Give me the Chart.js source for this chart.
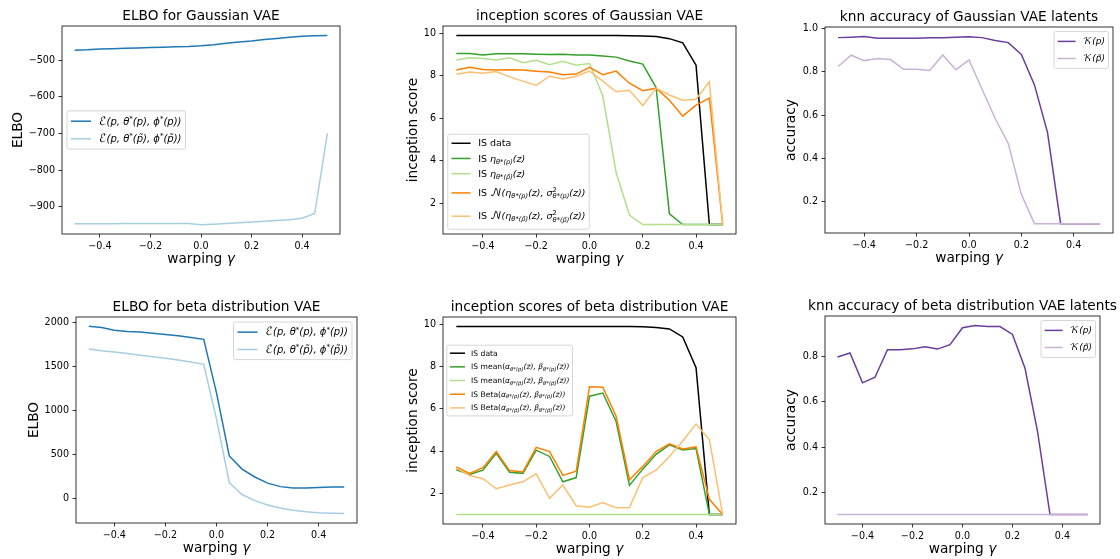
<!DOCTYPE html>
<html><head><meta charset="utf-8">
<script src="https://cdn.jsdelivr.net/npm/chart.js@4.4.1/dist/chart.umd.min.js"></script>
<style>
html,body{margin:0;padding:0;background:#fff;}
#wrap{position:relative;width:1120px;height:559px;overflow:hidden;background:#fff;}
canvas{position:absolute;}
</style></head><body><div id="wrap"></div>
<script>
// ---------------- data ----------------
const gamma = [-0.5,-0.45,-0.4,-0.35,-0.3,-0.25,-0.2,-0.15,-0.1,-0.05,0,0.05,0.1,0.15,0.2,0.25,0.3,0.35,0.4,0.45,0.5];
const xTicks = [-0.4,-0.2,0,0.2,0.4];

const elboGaussP  = [-472,-471,-469,-468,-467,-466,-465,-464,-463,-462,-460,-457,-453,-450,-447,-443,-440,-437,-434,-433,-432];
const elboGaussPt = [-947,-947,-947,-947,-946,-946,-946,-946,-946,-946,-950,-948,-946,-944,-942,-940,-938,-936,-932,-919,-700];
const elboGaussTicks = [-900,-800,-700,-600,-500];

const isGaussData = [9.9,9.9,9.9,9.9,9.9,9.9,9.9,9.9,9.9,9.9,9.9,9.9,9.9,9.89,9.88,9.85,9.75,9.55,8.5,1.0,1.0];
const isGaussEta  = [9.05,9.05,8.98,9.04,9.04,9.04,9.02,9.0,9.01,8.98,8.98,8.93,8.88,8.7,8.55,7.45,1.5,1.0,1.0,1.0,1.0];
const isGaussEtaT = [8.75,8.85,8.82,8.75,8.85,8.62,8.73,8.52,8.68,8.5,8.58,7.05,3.45,1.45,1.0,1.0,1.0,1.0,1.0,1.0,1.0];
const isGaussN    = [8.27,8.4,8.3,8.27,8.28,8.27,8.22,8.18,8.05,8.08,8.4,8.05,8.22,7.65,7.3,7.42,6.85,6.1,6.62,6.95,1.0];
const isGaussNT   = [8.07,8.18,8.12,8.2,7.95,7.75,7.55,7.98,7.85,7.98,8.22,7.75,7.25,7.32,6.6,7.42,7.1,6.85,6.9,7.72,1.0];
const isTicks = [2,4,6,8,10];

const knnGaussP  = [0.958,0.96,0.963,0.955,0.955,0.955,0.955,0.957,0.958,0.96,0.962,0.958,0.945,0.935,0.88,0.74,0.52,0.1,0.1,0.1,0.1];
const knnGaussPt = [0.825,0.877,0.852,0.862,0.857,0.812,0.812,0.806,0.878,0.81,0.855,0.72,0.585,0.47,0.235,0.1,0.1,0.1,0.1,0.1,0.1];
const knnGaussTicks = [0.2,0.4,0.6,0.8,1.0];

const elboBetaP  = [1960,1945,1915,1900,1895,1880,1865,1850,1830,1810,1200,480,330,240,170,130,115,115,120,125,125];
const elboBetaPt = [1700,1680,1665,1648,1630,1612,1594,1575,1552,1525,900,175,40,-30,-80,-115,-140,-157,-168,-174,-178];
const elboBetaTicks = [0,500,1000,1500,2000];

const isBetaData  = [9.9,9.9,9.9,9.9,9.9,9.9,9.9,9.9,9.9,9.9,9.9,9.9,9.9,9.89,9.88,9.85,9.78,9.4,7.95,1.0,1.0];
const isBetaMean  = [3.12,2.9,3.1,3.9,3.0,2.95,4.05,3.75,2.55,2.75,6.6,6.75,5.4,2.38,3.15,3.85,4.3,4.05,4.12,1.0,1.0];
const isBetaMeanT = [1,1,1,1,1,1,1,1,1,1,1,1,1,1,1,1,1,1,1,1,1];
const isBetaBeta  = [3.25,2.95,3.22,3.98,3.08,3.02,4.18,3.98,2.85,3.05,7.05,7.02,5.65,2.65,3.28,3.98,4.35,4.1,4.2,1.72,1.0];
const isBetaBetaT = [3.2,2.85,2.7,2.22,2.4,2.55,2.93,1.77,2.4,1.42,1.35,1.57,1.32,1.33,2.75,3.1,3.75,4.48,5.28,4.55,1.0];

const knnBetaP  = [0.8,0.818,0.685,0.71,0.832,0.832,0.836,0.845,0.835,0.855,0.93,0.94,0.935,0.935,0.9,0.75,0.47,0.1,0.1,0.1,0.1];
const knnBetaPt = [0.1,0.1,0.1,0.1,0.1,0.1,0.1,0.1,0.1,0.1,0.1,0.1,0.1,0.1,0.1,0.1,0.1,0.1,0.1,0.1,0.1];
const knnBetaTicks = [0.2,0.4,0.6,0.8];

// ---------------- styling helpers ----------------
const FONT = "'DejaVu Sans', sans-serif";
const CAL = "'DejaVu Math TeX Gyre', 'DejaVu Sans', 'DejaVu Serif', serif";
const C = {blue:'#1f78b4', lblue:'#a6cee3', green:'#33a02c', lgreen:'#b2df8a', orange:'#ff7f00', lorange:'#fdbf6f', purple:'#6a3d9a', lpurple:'#cab2d6', black:'#000000'};
function N(t){return {k:'n',t};}
function I(t){return {k:'i',t};}
function K(t){return {k:'c',t};}
function B(t){return {k:'b',t};}
function P(t){return {k:'p',t};}
function BP(p,b){return {k:'bp',p,b};}

const lab = {
  eP:  [K('ℰ'),I('(p, θ'),P('*'),I('(p), ϕ'),P('*'),I('(p))')],
  ePt: [K('ℰ'),I('(p, θ'),P('*'),I('(p̃), ϕ'),P('*'),I('(p̃))')],
  isData: [N('IS data')],
  isEta:  [N('IS '),I('η'),B('θ*(p)'),I('(z)')],
  isEtaT: [N('IS '),I('η'),B('θ*(p̃)'),I('(z)')],
  isN:    [N('IS '),K('𝒩'),I('(η'),B('θ*(p)'),I('(z), σ'),BP('2','θ*(p)'),I('(z))')],
  isNT:   [N('IS '),K('𝒩'),I('(η'),B('θ*(p̃)'),I('(z), σ'),BP('2','θ*(p̃)'),I('(z))')],
  kP:  [K('𝒦'),I('(p)')],
  kPt: [K('𝒦'),I('(p̃)')],
  mean:  [N('IS mean('),I('α'),B('θ*(p)'),I('(z), β'),B('θ*(p)'),I('(z))')],
  meanT: [N('IS mean('),I('α'),B('θ*(p̃)'),I('(z), β'),B('θ*(p̃)'),I('(z))')],
  beta:  [N('IS Beta('),I('α'),B('θ*(p)'),I('(z), β'),B('θ*(p)'),I('(z))')],
  betaT: [N('IS Beta('),I('α'),B('θ*(p̃)'),I('(z), β'),B('θ*(p̃)'),I('(z))')],
  warp: [N('warping '),I('γ')]
};

function fontOf(k, fs){
  if (k==='n') return fs+'px '+FONT;
  if (k==='i') return 'italic '+fs+'px '+FONT;
  if (k==='c') return (fs*1.1)+'px '+CAL;
  if (k==='b') return 'italic '+(fs*0.7)+'px '+FONT;
  return (fs*0.7)+'px '+FONT;
}
function segWidth(ctx, s, fs){
  if (s.k==='bp'){ ctx.font=fontOf('p',fs); const a=ctx.measureText(s.p).width; ctx.font=fontOf('b',fs); const b=ctx.measureText(s.b).width; return Math.max(a,b); }
  ctx.font=fontOf(s.k,fs); return ctx.measureText(s.t).width;
}
function segsWidth(ctx, segs, fs){ let w=0; segs.forEach(s=>w+=segWidth(ctx,s,fs)); return w; }
function drawSegs(ctx, segs, x, y, fs, color){
  ctx.fillStyle=color; ctx.textAlign='left'; ctx.textBaseline='alphabetic';
  for (const s of segs){
    const w=segWidth(ctx,s,fs);
    if (s.k==='bp'){
      ctx.font=fontOf('p',fs); ctx.fillText(s.p,x,y-0.42*fs);
      ctx.font=fontOf('b',fs); ctx.fillText(s.b,x,y+0.25*fs);
    } else {
      ctx.font=fontOf(s.k,fs);
      const dy = s.k==='b'?0.22*fs:(s.k==='p'?-0.38*fs:0);
      ctx.fillText(s.t,x,y+dy);
    }
    x+=w;
  }
}
function fmt(v, dec){ const s=Math.abs(v).toFixed(dec); return (v<-1e-9?'\u2212':'')+s; }

function drawLegend(chart, lg){
  const ctx=chart.ctx, a=chart.chartArea, fs=lg.fs;
  const pad=0.4*fs, hl=2*fs, htp=0.8*fs, ls=0.5*fs, bap=0.5*fs;
  const n=lg.items.length;
  const hs=lg.items.map((it,i)=>(Array.isArray(lg.rowH)?lg.rowH[i]:lg.rowH)*fs);
  let tw=0; lg.items.forEach(it=>{tw=Math.max(tw,segsWidth(ctx,it.segs,fs));});
  const W=2*pad+hl+htp+tw, H=2*pad+hs.reduce((s,v)=>s+v,0)+ls*(n-1);
  let x,y;
  if (lg.loc==='upper right'){x=a.right-bap-W; y=a.top+bap;}
  else if (lg.loc==='lower left'){x=a.left+bap; y=a.bottom-bap-H;}
  else { x=a.left+bap; const cy=a.bottom-(a.bottom-a.top)*lg.yFrac; y=cy-H/2; }
  ctx.save();
  const r=0.2*fs;
  ctx.beginPath();
  ctx.moveTo(x+r,y); ctx.lineTo(x+W-r,y); ctx.quadraticCurveTo(x+W,y,x+W,y+r);
  ctx.lineTo(x+W,y+H-r); ctx.quadraticCurveTo(x+W,y+H,x+W-r,y+H);
  ctx.lineTo(x+r,y+H); ctx.quadraticCurveTo(x,y+H,x,y+H-r);
  ctx.lineTo(x,y+r); ctx.quadraticCurveTo(x,y,x+r,y); ctx.closePath();
  ctx.fillStyle='rgba(255,255,255,0.8)'; ctx.fill();
  ctx.strokeStyle='rgba(204,204,204,0.8)'; ctx.lineWidth=1; ctx.stroke();
  let cyAcc=y+pad;
  lg.items.forEach((it,i)=>{
    const cy=cyAcc+hs[i]/2;
    ctx.beginPath(); ctx.moveTo(x+pad,cy); ctx.lineTo(x+pad+hl,cy);
    ctx.strokeStyle=it.color; ctx.lineWidth=1.5; ctx.stroke();
    drawSegs(ctx,it.segs,x+pad+hl+htp,cy+0.33*fs,fs,'#000');
    cyAcc+=hs[i]+ls;
  });
  ctx.restore();
}

function drawDeco(chart, p){
  const ctx=chart.ctx, a=chart.chartArea;
  ctx.save();
  ctx.strokeStyle='#000'; ctx.lineWidth=0.8;
  ctx.strokeRect(a.left,a.top,a.right-a.left,a.bottom-a.top);
  ctx.fillStyle='#000'; ctx.font='13.7px '+FONT; ctx.textAlign='center'; ctx.textBaseline='alphabetic';
  ctx.fillText(p.title,(a.left+a.right)/2,a.top-6);
  const fsl=13.7;
  const w=segsWidth(ctx,lab.warp,fsl);
  drawSegs(ctx,lab.warp,(a.left+a.right)/2-w/2,a.bottom+29,fsl,'#000');
  ctx.save();
  ctx.translate(a.left-p.ylabBase,(a.top+a.bottom)/2);
  ctx.rotate(-Math.PI/2);
  ctx.font=fsl+'px '+FONT; ctx.textAlign='center'; ctx.textBaseline='alphabetic'; ctx.fillStyle='#000';
  ctx.fillText(p.ylabel,0,0);
  ctx.restore();
  ctx.restore();
  drawLegend(chart,p.legend);
}

// ---------------- panels ----------------
const panels = [
 {box:[62,26,340,234], ylim:[-975,-406], yTicks:elboGaussTicks, dec:0, title:'ELBO for Gaussian VAE', ylabel:'ELBO', ylabBase:40,
  series:[{data:elboGaussP,color:C.blue},{data:elboGaussPt,color:C.lblue}],
  legend:{loc:'center left', yFrac:0.5, fs:10, rowH:1.26, items:[{color:C.blue,segs:lab.eP},{color:C.lblue,segs:lab.ePt}]}},
 {box:[443,26,736,234], ylim:[0.555,10.345], yTicks:isTicks, dec:0, title:'inception scores of Gaussian VAE', ylabel:'inception score', ylabBase:26,
  series:[{data:isGaussData,color:C.black},{data:isGaussEta,color:C.green},{data:isGaussEtaT,color:C.lgreen},{data:isGaussN,color:C.orange},{data:isGaussNT,color:C.lorange}],
  legend:{loc:'lower left', fs:9.5, rowH:[1.1,1.1,1.1,1.95,1.95], items:[{color:C.black,segs:lab.isData},{color:C.green,segs:lab.isEta},{color:C.lgreen,segs:lab.isEtaT},{color:C.orange,segs:lab.isN},{color:C.lorange,segs:lab.isNT}]}},
 {box:[825,27,1113,233], ylim:[0.057,1.007], yTicks:knnGaussTicks, dec:1, title:'knn accuracy of Gaussian VAE latents', ylabel:'accuracy', ylabBase:30,
  series:[{data:knnGaussP,color:C.purple},{data:knnGaussPt,color:C.lpurple}],
  legend:{loc:'upper right', fs:9, rowH:1.4, items:[{color:C.purple,segs:lab.kP},{color:C.lpurple,segs:lab.kPt}]}},
 {box:[76,317,357,523], ylim:[-285,2065], yTicks:elboBetaTicks, dec:0, title:'ELBO for beta distribution VAE', ylabel:'ELBO', ylabBase:38,
  series:[{data:elboBetaP,color:C.blue},{data:elboBetaPt,color:C.lblue}],
  legend:{loc:'upper right', fs:10, rowH:1.23, items:[{color:C.blue,segs:lab.eP},{color:C.lblue,segs:lab.ePt}]}},
 {box:[443,317,736,524], ylim:[0.555,10.345], yTicks:isTicks, dec:0, title:'inception scores of beta distribution VAE', ylabel:'inception score', ylabBase:26,
  series:[{data:isBetaData,color:C.black},{data:isBetaMean,color:C.green},{data:isBetaMeanT,color:C.lgreen},{data:isBetaBeta,color:C.orange},{data:isBetaBetaT,color:C.lorange}],
  legend:{loc:'left', yFrac:0.693, fs:7.6, rowH:1.3, items:[{color:C.black,segs:lab.isData},{color:C.green,segs:lab.mean},{color:C.lgreen,segs:lab.meanT},{color:C.orange,segs:lab.beta},{color:C.lorange,segs:lab.betaT}]}},
 {box:[825,316,1100,524], ylim:[0.058,0.982], yTicks:knnBetaTicks, dec:1, title:'knn accuracy of beta distribution VAE latents', ylabel:'accuracy', ylabBase:30,
  series:[{data:knnBetaP,color:C.purple},{data:knnBetaPt,color:C.lpurple}],
  legend:{loc:'upper right', fs:9, rowH:1.4, items:[{color:C.purple,segs:lab.kP},{color:C.lpurple,segs:lab.kPt}]}}
];

const YW=62, TOP=26, XH=40, RP=24;
const tickFont={family:FONT,size:9.6};
const wrap=document.getElementById('wrap');
panels.forEach(p=>{
  const [L,T,R,Bt]=p.box;
  const cv=document.createElement('canvas');
  const W=(R-L)+YW+RP, H=(Bt-T)+TOP+XH;
  cv.width=W; cv.height=H; cv.style.width=W+'px'; cv.style.height=H+'px';
  cv.style.left=(L-YW)+'px'; cv.style.top=(T-TOP)+'px';
  wrap.appendChild(cv);
  const n=p.series.length;
  new Chart(cv,{
    type:'line',
    data:{datasets:p.series.map((s,i)=>({
      data:gamma.map((g,j)=>({x:g,y:s.data[j]})),
      borderColor:s.color, backgroundColor:s.color, borderWidth:1.5,
      pointRadius:0, pointHoverRadius:0, fill:false, tension:0, order:n-i
    }))},
    options:{
      responsive:false, animation:false, devicePixelRatio:1,
      events:[],
      layout:{padding:{left:0,right:RP,top:TOP,bottom:0}},
      plugins:{legend:{display:false},tooltip:{enabled:false},title:{display:false}},
      scales:{
        x:{type:'linear',min:-0.55,max:0.55,
          afterBuildTicks:s=>{s.ticks=xTicks.map(v=>({value:v}));},
          afterFit:s=>{s.height=XH; s.paddingLeft=0; s.paddingRight=0;},
          ticks:{font:tickFont,color:'#000',padding:3.5,maxRotation:0,autoSkip:false,callback:v=>fmt(v,1)},
          grid:{drawOnChartArea:false,drawTicks:true,tickLength:3.5,color:'#000',lineWidth:0.8},
          border:{display:false}},
        y:{type:'linear',min:p.ylim[0],max:p.ylim[1],
          afterBuildTicks:s=>{s.ticks=p.yTicks.map(v=>({value:v}));},
          afterFit:s=>{s.width=YW; s.paddingTop=0; s.paddingBottom=0;},
          ticks:{font:tickFont,color:'#000',padding:3.5,autoSkip:false,callback:v=>fmt(v,p.dec)},
          grid:{drawOnChartArea:false,drawTicks:true,tickLength:3.5,color:'#000',lineWidth:0.8},
          border:{display:false}}
      }
    },
    plugins:[{id:'deco',afterDraw:(chart)=>drawDeco(chart,p)}]
  });
});
</script>
</body></html>
